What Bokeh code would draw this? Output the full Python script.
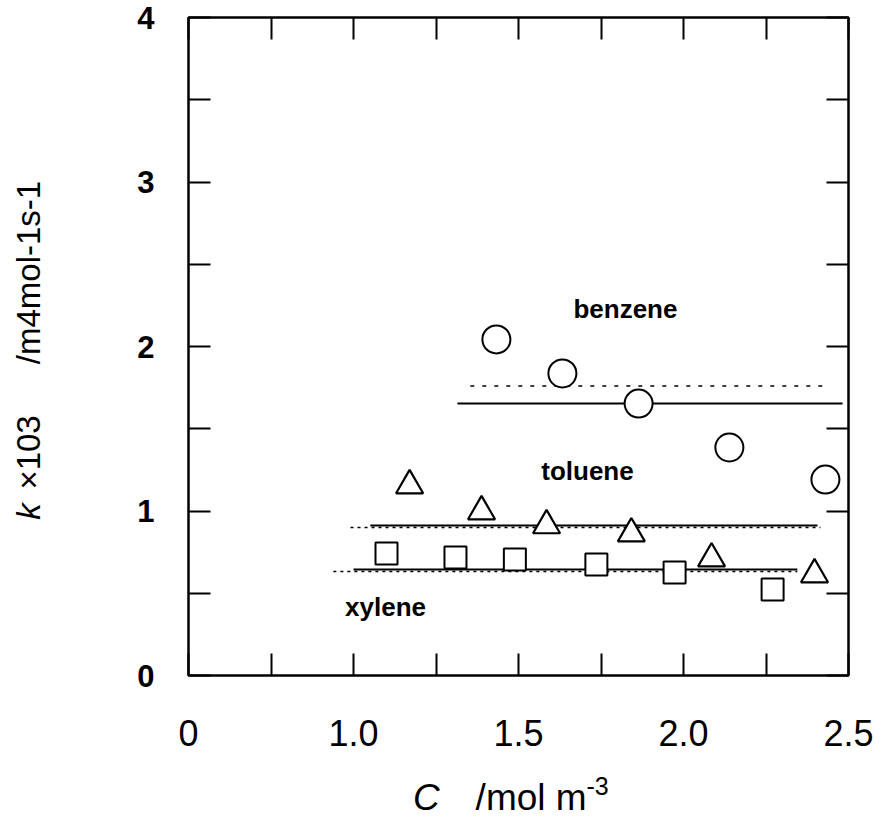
from bokeh.plotting import figure
from bokeh.models import (Range1d, FixedTicker, LinearAxis, Label, CustomLabelingPolicy)
from bokeh.embed import file_html
from bokeh.resources import INLINE
import math

# ---------------- data ----------------
benzene_x = [1.433, 1.633, 1.864, 2.139, 2.430]
benzene_y = [2.043, 1.836, 1.653, 1.386, 1.191]

toluene_x = [1.170, 1.388, 1.585, 1.842, 2.085, 2.397]
toluene_y = [1.155, 0.997, 0.912, 0.863, 0.711, 0.614]

xylene_x = [1.100, 1.309, 1.489, 1.736, 1.973, 2.270]
xylene_y = [0.742, 0.717, 0.705, 0.675, 0.626, 0.523]

# fitted lines (solid) and dotted lines
benzene_solid_x = [1.315, 2.482]
benzene_solid_y = [1.653, 1.653]
benzene_dot_x = [1.354, 2.436]
benzene_dot_y = [1.760, 1.760]

toluene_solid_x = [1.051, 2.406]
toluene_solid_y = [0.912, 0.912]
toluene_dot_x = [0.991, 2.415]
toluene_dot_y = [0.900, 0.900]

xylene_solid_x = [1.000, 2.345]
xylene_solid_y = [0.644, 0.644]
xylene_dot_x = [0.939, 2.345]
xylene_dot_y = [0.632, 0.632]

x_major = [0.5, 1.0, 1.5, 2.0, 2.5]
x_major_labels = ["0", "1.0", "1.5", "2.0", "2.5"]
x_minor = [0.75, 1.25, 1.75, 2.25]
y_major = [0, 1, 2, 3, 4]
y_major_labels = ["0", "1", "2", "3", "4"]
y_minor = [0.5, 1.5, 2.5, 3.5]

series_names = ["benzene", "toluene", "xylene"]

FONT = "Liberation Sans"

p = figure(width=886, height=820, output_backend="svg", toolbar_location=None,
           x_range=Range1d(0.5, 2.5), y_range=Range1d(0, 4),
           min_border_left=188, min_border_right=38,
           min_border_top=17, min_border_bottom=145,
           x_axis_location=None, y_axis_location=None)
p.grid.visible = False
p.outline_line_color = "black"
p.outline_line_width = 2.5
p.background_fill_color = "white"
p.border_fill_color = "white"

no_labels = CustomLabelingPolicy(code="for (const i of indices) indices.unset(i)")


def make_axis(loc, major, minor, labels, show_labels, bold=False, standoff=0, size="32px"):
    ax = LinearAxis(ticker=FixedTicker(ticks=major, minor_ticks=minor))
    ax.axis_line_color = None
    ax.major_tick_in = 22
    ax.major_tick_out = 0
    ax.minor_tick_in = 22
    ax.minor_tick_out = 0
    ax.major_tick_line_width = 2
    ax.minor_tick_line_width = 2
    ax.major_tick_line_color = "black"
    ax.minor_tick_line_color = "black"
    ax.major_label_overrides = {v: s for v, s in zip(major, labels)}
    if show_labels:
        ax.major_label_text_font = FONT
        ax.major_label_text_font_size = size
        ax.major_label_text_color = "black"
        ax.major_label_text_font_style = "bold" if bold else "normal"
        ax.major_label_standoff = standoff
    else:
        ax.major_label_policy = no_labels
        ax.major_label_text_font_size = "1px"
        ax.major_label_standoff = 0
    p.add_layout(ax, loc)
    return ax


make_axis("below", x_major, x_minor, x_major_labels, True, bold=False, standoff=44, size="36px")
make_axis("above", x_major, x_minor, x_major_labels, False)
make_axis("left", y_major, y_minor, y_major_labels, True, bold=True, standoff=34, size="31px")
make_axis("right", y_major, y_minor, y_major_labels, False)

# lines
p.line(benzene_solid_x, benzene_solid_y, line_color="black", line_width=2)
p.line(benzene_dot_x, benzene_dot_y, line_color="black", line_width=1.5, line_dash="4 8")
p.line(toluene_dot_x, toluene_dot_y, line_color="black", line_width=1.5, line_dash="3 4")
p.line(toluene_solid_x, toluene_solid_y, line_color="black", line_width=2)
p.line(xylene_dot_x, xylene_dot_y, line_color="black", line_width=1.5, line_dash="3 4")
p.line(xylene_solid_x, xylene_solid_y, line_color="black", line_width=2)

# markers
p.scatter(benzene_x, benzene_y, marker="circle", size=28, fill_color="white",
          line_color="black", line_width=2)
p.scatter(toluene_x, toluene_y, marker="triangle", size=27, fill_color="white",
          line_color="black", line_width=2.2)
p.scatter(xylene_x, xylene_y, marker="square", size=22, fill_color="white",
          line_color="black", line_width=2)

# series labels
series_label_pos = [(1.824, 2.231), (1.709, 1.246), (1.097, 0.419)]
for name, (lx, ly) in zip(series_names, series_label_pos):
    p.add_layout(Label(x=lx, y=ly, text=name, text_font=FONT, text_font_size="26px",
                       text_font_style="bold", text_align="center",
                       text_baseline="middle", text_color="black"))

# x axis title (held by side panels so it is not clipped to the frame)
p.add_layout(Label(x=1.221, y=-0.742, text="C", text_font=FONT, text_font_size="37px",
                   text_font_style="italic", text_align="center", text_baseline="middle",
                   text_color="black"), "right")
p.add_layout(Label(x=1.370, y=-0.742, text="/mol m", text_font=FONT, text_font_size="37px",
                   text_align="left", text_baseline="middle", text_color="black"), "below")
p.add_layout(Label(x=1.706, y=-0.672, text="-3", text_font=FONT, text_font_size="25px",
                   text_align="left", text_baseline="middle", text_color="black"), "left")

# y axis title (rotated)
p.add_layout(Label(x=0.015, y=0.997, text="k", text_font=FONT, text_font_size="33px",
                   text_font_style="italic", text_align="center", text_baseline="middle",
                   angle=math.pi / 2, text_color="black"), "left")
p.add_layout(Label(x=0.015, y=1.356, text="×103", text_font=FONT, text_font_size="33px",
                   text_align="center", text_baseline="middle", angle=math.pi / 2,
                   text_color="black"), "left")
p.add_layout(Label(x=0.015, y=2.45, text="/m4mol-1s-1", text_font=FONT, text_font_size="33px",
                   text_align="center", text_baseline="middle", angle=math.pi / 2,
                   text_color="black"), "left")

open("out.html", "w").write(file_html(p, INLINE))
